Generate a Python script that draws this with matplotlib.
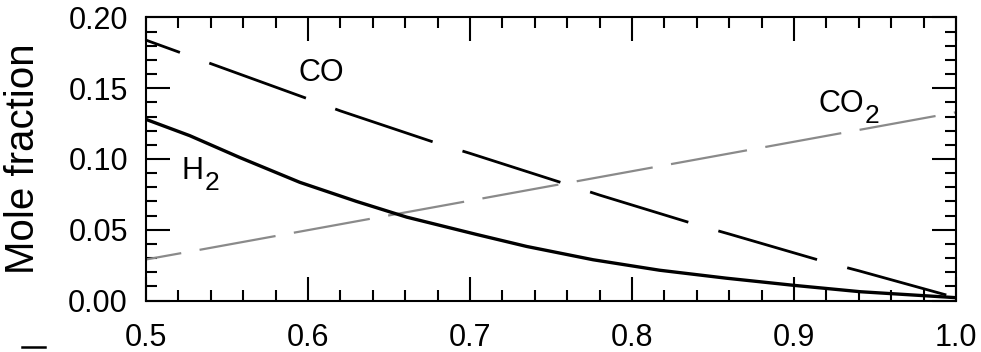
import numpy as np
import matplotlib
matplotlib.use("Agg")
import matplotlib.pyplot as plt
from matplotlib.ticker import MultipleLocator, FormatStrFormatter
from matplotlib.lines import Line2D

plt.rcParams["font.family"] = ["Liberation Sans", "DejaVu Sans"]
plt.rcParams["lines.scale_dashes"] = False

# mole fractions along the reactor coordinate, one x grid per species
x_h2 = [0.500, 0.527, 0.558, 0.595, 0.630, 0.661, 0.704, 0.735, 0.776, 0.817, 0.858, 0.900, 0.941, 1.000]
h2 = [0.128, 0.1165, 0.101, 0.0835, 0.0700, 0.0589, 0.0467, 0.0382, 0.0288, 0.0214, 0.0158, 0.0107, 0.0062, 0.002]

x_co = [0.50, 0.60, 0.62, 0.68, 0.70, 0.76, 0.78, 0.81, 0.84, 0.86, 0.92, 0.94, 1.00]
co = [0.184, 0.1425, 0.134, 0.111, 0.104, 0.082, 0.0745, 0.064, 0.0535, 0.047, 0.027, 0.021, 0.002]

x_co2 = [0.50, 0.535, 1.00]
co2 = [0.029, 0.0362, 0.133]

fig = plt.figure(figsize=(9.81, 3.52), dpi=100)
ax = fig.add_axes([0.1488, 0.1463, 0.8257, 0.8040])

ax.plot(x_co2, co2, color="#8a8a8a", lw=1.6, dash_capstyle="butt")
ax.lines[-1]._dash_pattern = (29, [54, 15])
ax.plot(x_co, co, color="black", lw=2.0, dash_capstyle="butt")
ax.lines[-1]._dash_pattern = (47, [72, 24.5])
ax.plot(x_h2, h2, color="black", lw=2.4, solid_capstyle="butt")


def species_label(xpos, ypos, name, sub):
    t = ax.text(xpos, ypos, name, fontsize=22, va="baseline", ha="left")
    ax.annotate(sub, xy=(1, 0.5), xycoords=t, xytext=(0.5, 0),
                textcoords="offset points", fontsize=19, va="top", ha="left")
    return t


ax.text(0.594, 0.155, "CO", fontsize=22, va="baseline", ha="left")
species_label(0.522, 0.086, "H", "2")
species_label(0.915, 0.133, "CO", "2")

ax.set_xlim(0.5, 1.0)
ax.set_ylim(0.0, 0.20)
ax.xaxis.set_major_locator(MultipleLocator(0.1))
ax.xaxis.set_minor_locator(MultipleLocator(0.02))
ax.yaxis.set_major_locator(MultipleLocator(0.05))
ax.yaxis.set_minor_locator(MultipleLocator(0.01))
ax.xaxis.set_major_formatter(FormatStrFormatter("%.1f"))
ax.yaxis.set_major_formatter(FormatStrFormatter("%.2f"))
ax.tick_params(which="both", direction="in", top=True, right=True, width=1.5)
ax.tick_params(which="major", length=17, labelsize=22)
ax.tick_params(axis="x", which="major", pad=16)
ax.tick_params(axis="y", which="major", pad=13)
ax.tick_params(which="minor", length=8)
for s in ax.spines.values():
    s.set_linewidth(1.5)

ax.set_ylabel("Mole fraction", fontsize=29)
ax.yaxis.set_label_coords(-0.128, 0.5)

# stray mark at the lower left corner
fig.add_artist(Line2D([0.022, 0.046], [0.015, 0.015], color="black", lw=1.8,
                      transform=fig.transFigure))

fig.savefig("out.png", dpi=100)
